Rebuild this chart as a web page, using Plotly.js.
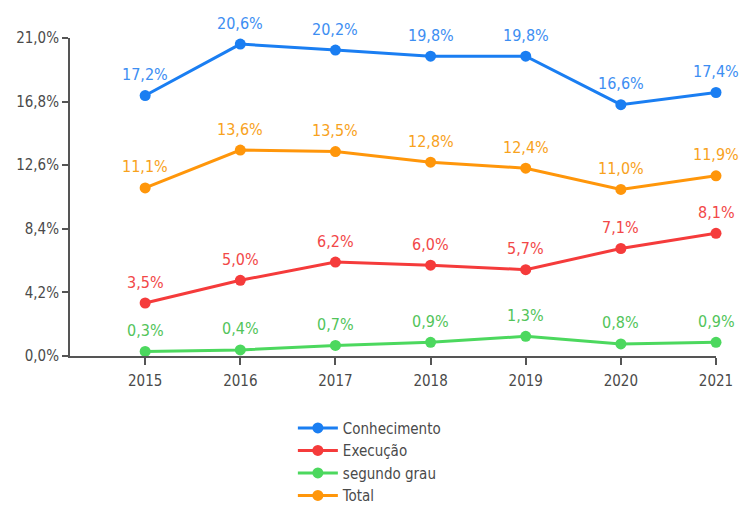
<!DOCTYPE html>
<html>
<head>
<meta charset="utf-8">
<script src="https://cdn.plot.ly/plotly-3.0.1.min.js"></script>
<style>html,body{margin:0;padding:0;background:#fff;}#chart{width:740px;height:505px;}</style>
</head>
<body>
<div id="chart"></div>
<script>
const years = [2015, 2016, 2017, 2018, 2019, 2020, 2021];
const conhecimento = [17.2, 20.6, 20.2, 19.8, 19.8, 16.6, 17.4];
const execucao = [3.5, 5.0, 6.2, 6.0, 5.7, 7.1, 8.1];
const segundoGrau = [0.3, 0.4, 0.7, 0.9, 1.3, 0.8, 0.9];
const total = [11.1, 13.6, 13.5, 12.8, 12.4, 11.0, 11.9];
const seriesNames = ['Conhecimento', 'Execução', 'segundo grau', 'Total'];
const yTickVals = [0, 4.2, 8.4, 12.6, 16.8, 21.0];
const yTickText = ['0,0%', '4,2%', '8,4%', '12,6%', '16,8%', '21,0%'];

const FONT = '"Liberation Sans Narrow", "DejaVu Sans Condensed", "Roboto", sans-serif';
const fmt = v => v.toFixed(1).replace('.', ',') + '%';

const series = [
  {name: seriesNames[0], vals: conhecimento, color: '#1A7EF2', text: '#3D8EF2'},
  {name: seriesNames[1], vals: execucao, color: '#F53B3B', text: '#F24848'},
  {name: seriesNames[2], vals: segundoGrau, color: '#4CD85E', text: '#52C45A'},
  {name: seriesNames[3], vals: total, color: '#FF960A', text: '#F8A21C'}
];

const data = series.map(s => ({
  type: 'scatter', mode: 'lines+markers', name: s.name,
  x: years, y: s.vals,
  line: {color: s.color, width: 3},
  marker: {color: s.color, size: 11},
  cliponaxis: false,
  hoverinfo: 'skip'
}));

const annotations = [];
series.forEach(s => {
  s.vals.forEach((v, i) => {
    annotations.push({
      x: years[i], y: v, xref: 'x', yref: 'y',
      text: fmt(v), showarrow: false,
      yanchor: 'middle', xanchor: 'center', yshift: 21,
      font: {family: FONT, size: 16, color: s.text}
    });
  });
});

const layout = {
  width: 740, height: 505,
  margin: {l: 70, r: 24, t: 38, b: 149, autoexpand: false},
  paper_bgcolor: '#fff', plot_bgcolor: '#fff',
  showlegend: true,
  font: {family: FONT, color: '#4a4a4a', size: 14},
  annotations: annotations,
  xaxis: {
    range: [2014.21, 2021], tickvals: years, ticktext: years.map(String),
    showgrid: false, zeroline: false, showline: true, linecolor: '#555', linewidth: 2,
    ticks: 'outside', ticklen: 7, tickwidth: 2, tickcolor: '#555',
    ticklabelstandoff: 3,
    tickfont: {family: FONT, size: 15, color: '#4a4a4a'}
  },
  yaxis: {
    range: [0, 21], tickvals: yTickVals, ticktext: yTickText,
    showgrid: false, zeroline: false, showline: true, linecolor: '#555', linewidth: 2,
    ticks: 'outside', ticklen: 6, tickwidth: 2, tickcolor: '#555',
    tickfont: {family: FONT, size: 15, color: '#4a4a4a'}
  },
  legend: {
    x: 0.345, xanchor: 'left', y: -0.175, yanchor: 'top',
    font: {family: FONT, size: 15, color: '#4a4a4a'},
    tracegroupgap: 0, itemwidth: 40
  }
};

Plotly.newPlot('chart', data, layout, {displayModeBar: false, staticPlot: true});
</script>
</body>
</html>
